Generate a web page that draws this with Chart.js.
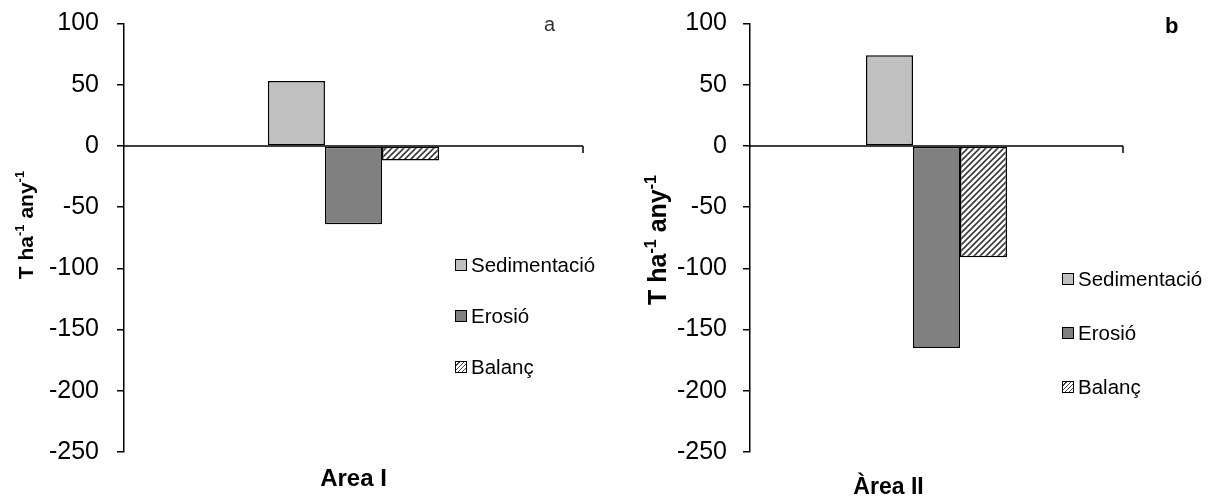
<!DOCTYPE html>
<html><head><meta charset="utf-8">
<script src="https://cdn.jsdelivr.net/npm/chart.js@4"></script>
<style>
html,body{margin:0;padding:0;background:#fff;}
#wrap{position:relative;width:1212px;height:497px;overflow:hidden;font-family:"Liberation Sans",Arial,sans-serif;}
.cv{position:absolute;top:0;width:606px;height:497px;}
.leg{position:absolute;font-size:20.5px;color:#000;}
.row{position:absolute;left:0;white-space:nowrap;display:flex;align-items:center;height:24px;line-height:24px;}
.box{width:10px;height:10px;border:1.5px solid #000;margin-right:4px;box-sizing:content-box;}
.panel{position:absolute;font-size:20px;}
</style></head>
<body>
<div id="wrap">
  <div class="cv" style="left:0"><canvas id="cA" width="606" height="497"></canvas></div>
  <div class="cv" style="left:606px"><canvas id="cB" width="606" height="497"></canvas></div>
  <div class="leg" id="legA" style="left:455px;top:253px;"></div>
  <div class="leg" id="legB" style="left:1062px;top:267px;"></div>
  <div class="panel" style="left:544px;top:13px;color:#333;">a</div>
  <div class="panel" style="left:1165px;top:13px;font-weight:bold;font-size:22px;">b</div>
</div>
<script>
const categoriesA = ['Area I'];
const categoriesB = ['Àrea II'];
const seriesNames = ['Sedimentació', 'Erosió', 'Balanç'];
const sedimentacioA = [53];
const erosioA = [-64];
const balancA = [-12];
const sedimentacioB = [74];
const erosioB = [-165];
const balancB = [-91];
const yTicks = [100, 50, 0, -50, -100, -150, -200, -250];
const yTitleParts = [['T ha', false], ['-1', true], [' any', false], ['-1', true]];

const FONT = '"Liberation Sans", Arial, sans-serif';
const SED_COLOR = '#C0C0C0';
const ERO_COLOR = '#808080';

function hatch() {
  const c = document.createElement('canvas');
  c.width = 6; c.height = 6;
  const g = c.getContext('2d');
  g.fillStyle = '#fff'; g.fillRect(0, 0, 6, 6);
  g.strokeStyle = '#3a3a3a'; g.lineWidth = 1.6;
  g.beginPath();
  g.moveTo(-1, 7); g.lineTo(7, -1);
  g.moveTo(-4, 4); g.lineTo(4, -4);
  g.moveTo(2, 10); g.lineTo(10, 2);
  g.stroke();
  return document.getElementById('cA').getContext('2d').createPattern(c, 'repeat');
}
const HATCH = hatch();

const axisPlugin = {
  id: 'axisExtras',
  beforeDatasetsDraw(chart) {
    const ctx = chart.ctx, ca = chart.chartArea;
    const y0 = chart.scales.y.getPixelForValue(0);
    ctx.save();
    ctx.strokeStyle = '#000'; ctx.lineWidth = 1.5;
    ctx.beginPath();
    ctx.moveTo(ca.left, y0); ctx.lineTo(ca.right, y0);
    ctx.moveTo(ca.right, y0); ctx.lineTo(ca.right, y0 + 7);
    ctx.stroke();
    ctx.restore();
  },
  afterDraw(chart, args, o) {
    const ctx = chart.ctx, ca = chart.chartArea;
    ctx.save();
    ctx.fillStyle = '#000';
    ctx.font = `bold ${o.xSize}px ${FONT}`;
    ctx.textAlign = 'center'; ctx.textBaseline = 'alphabetic';
    ctx.fillText(o.xText, (ca.left + ca.right) / 2 + o.xShift, o.xBaseline);
    const big = `bold ${o.ySize}px ${FONT}`;
    const small = `bold ${Math.round(o.ySize * 0.62)}px ${FONT}`;
    let total = 0;
    for (const [t, sup] of yTitleParts) { ctx.font = sup ? small : big; total += ctx.measureText(t).width; }
    ctx.translate(o.yBaselineX, o.yCenter);
    ctx.rotate(-Math.PI / 2);
    ctx.textAlign = 'left';
    let x = -total / 2;
    for (const [t, sup] of yTitleParts) {
      ctx.font = sup ? small : big;
      ctx.fillText(t, x, sup ? -o.ySize * 0.42 : 0);
      x += ctx.measureText(t).width;
    }
    ctx.restore();
  }
};

function makeChart(id, labels, sed, ero, bal, cfg) {
  return new Chart(document.getElementById(id), {
    type: 'bar',
    data: {
      labels: labels,
      datasets: [
        { label: seriesNames[0], data: sed, backgroundColor: SED_COLOR },
        { label: seriesNames[1], data: ero, backgroundColor: ERO_COLOR },
        { label: seriesNames[2], data: bal, backgroundColor: HATCH }
      ].map(d => Object.assign(d, { borderColor: '#000', borderWidth: 1.5, borderSkipped: false,
        barPercentage: 1, categoryPercentage: cfg.catPct }))
    },
    options: {
      responsive: false, animation: false,
      layout: { padding: { top: 23.5, bottom: 45, left: 0, right: cfg.padRight } },
      plugins: { legend: { display: false }, tooltip: { enabled: false },
        axisExtras: cfg.titles },
      scales: {
        x: { display: false },
        y: {
          min: Math.min(...yTicks), max: Math.max(...yTicks),
          afterFit(s) { s.width = cfg.yWidth; s.paddingTop = 0; s.paddingBottom = 0; },
          afterBuildTicks(s) { s.ticks = yTicks.map(v => ({ value: v })); },
          ticks: { font: { family: FONT, size: 25 }, color: '#000', padding: cfg.tickPad },
          grid: { drawOnChartArea: false, drawTicks: true, tickLength: 7, color: '#000', lineWidth: 1.5 },
          border: { display: true, color: '#000', width: 1.5 }
        }
      }
    },
    plugins: [axisPlugin]
  });
}

makeChart('cA', categoriesA, sedimentacioA, erosioA, balancA, {
  catPct: 0.373, padRight: 23, yWidth: 124, tickPad: 18,
  titles: { xText: categoriesA[0], xSize: 24, xShift: 0, xBaseline: 486,
    ySize: 21, yBaselineX: 33, yCenter: 225 }
});
makeChart('cB', categoriesB, sedimentacioB, erosioB, balancB, {
  catPct: 0.378, padRight: 89, yWidth: 144, tickPad: 16,
  titles: { xText: categoriesB[0], xSize: 23, xShift: -48, xBaseline: 494,
    ySize: 25, yBaselineX: 60, yCenter: 240 }
});

function legend(elId, gap) {
  const el = document.getElementById(elId);
  const fills = [SED_COLOR, ERO_COLOR, 'repeating-linear-gradient(135deg,#fff 0 2px,#444 2px 3px)'];
  seriesNames.forEach((n, i) => {
    const r = document.createElement('div');
    r.className = 'row'; r.style.top = (i * gap) + 'px';
    const b = document.createElement('span'); b.className = 'box'; b.style.background = fills[i];
    const t = document.createElement('span'); t.textContent = n;
    r.appendChild(b); r.appendChild(t); el.appendChild(r);
  });
}
legend('legA', 51);
legend('legB', 54);
</script>
</body></html>
